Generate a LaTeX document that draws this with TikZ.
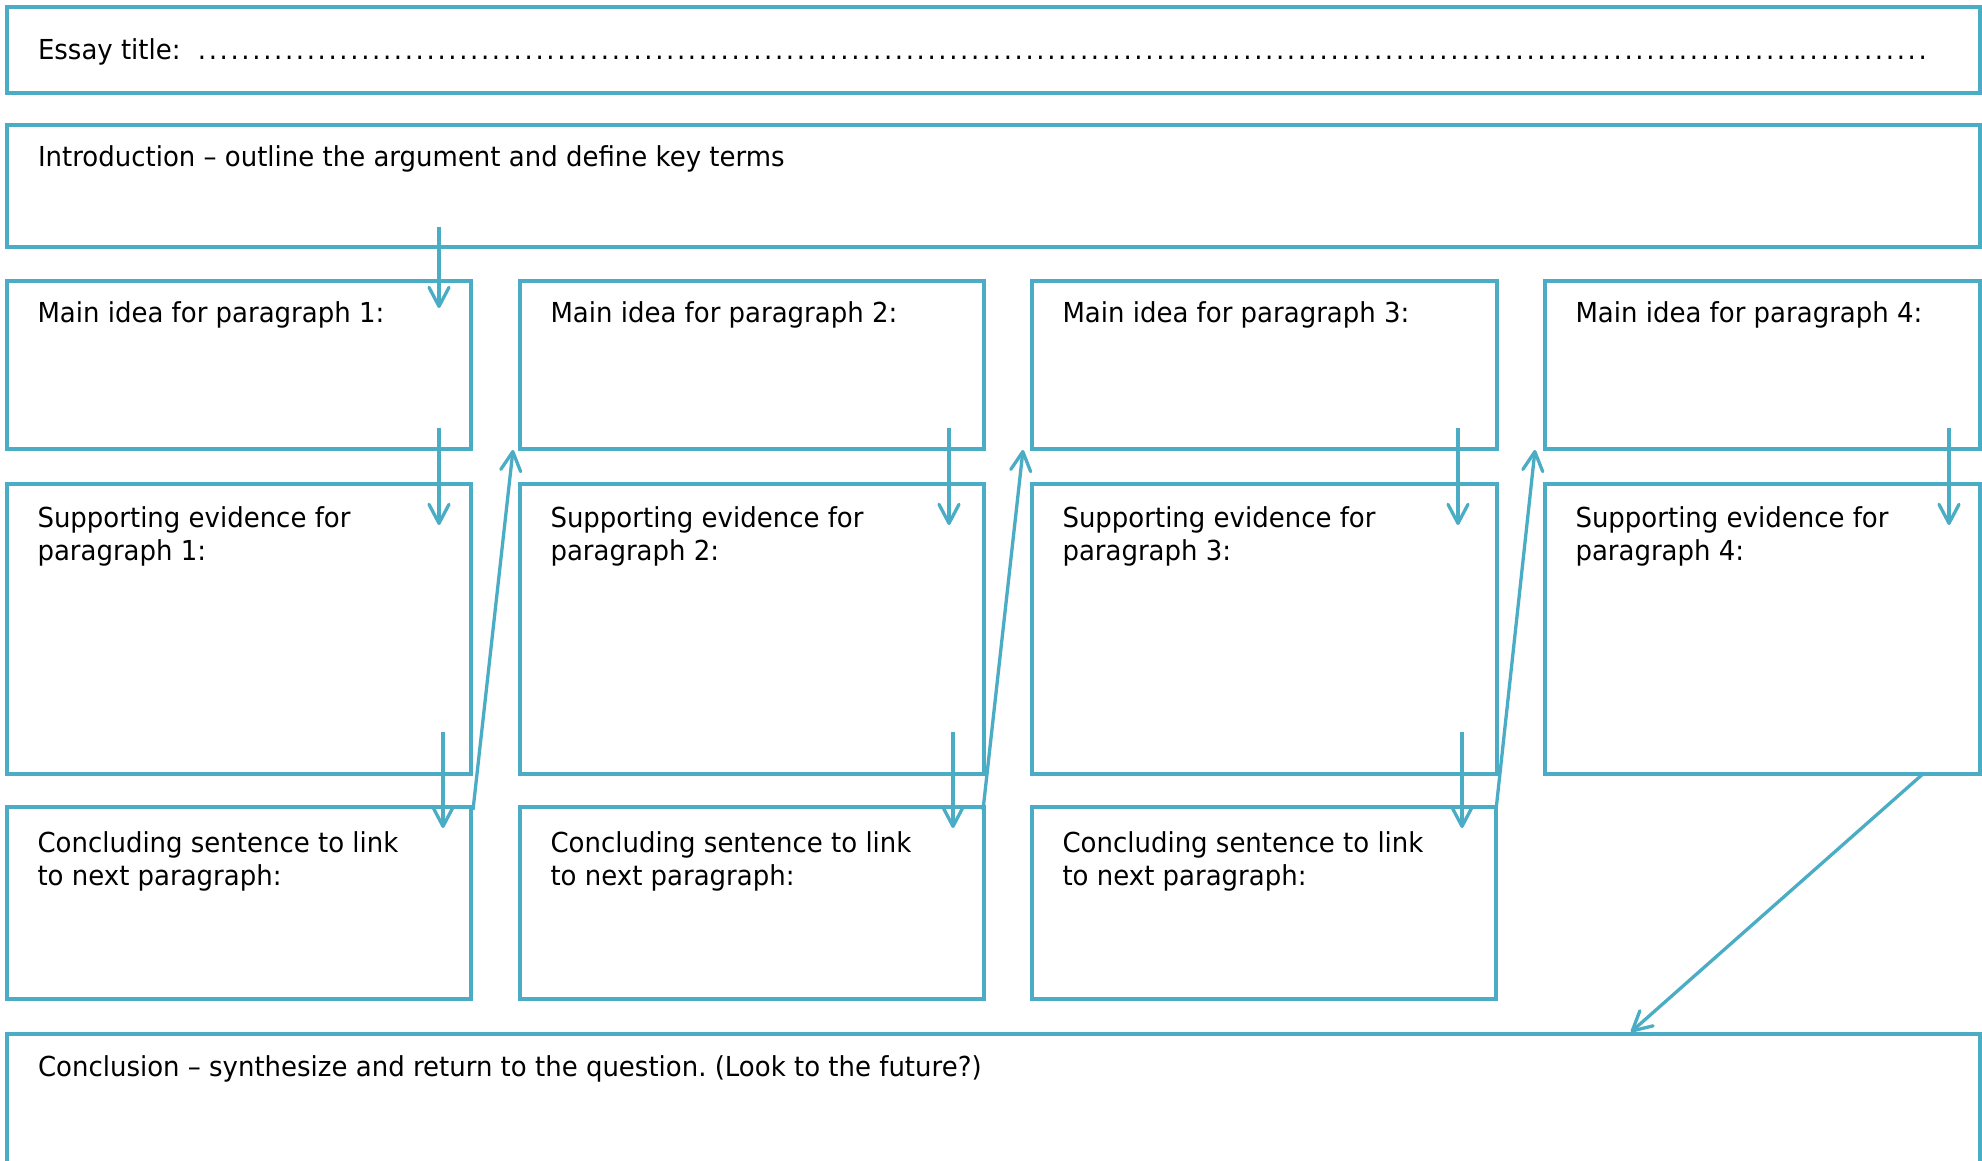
\documentclass[tikz,border=0pt]{standalone}
\usepackage{fontspec}
\setmainfont{DejaVu Sans}[FakeStretch=0.945]
\usetikzlibrary{arrows.meta,calc}
\definecolor{accent}{HTML}{4BACC6}
\newcommand\lblstrut{\rule{0pt}{24pt}}
\frenchspacing
\begin{document}
\begin{tikzpicture}[x=1pt,y=-1pt,
  box/.style={draw=accent,line width=3.3pt,rectangle,inner sep=0pt,outer sep=0pt,anchor=north west},
  lbl/.style={anchor=north west,inner sep=0pt,outer sep=0pt,align=left,font=\fontsize{27.5}{33}\selectfont},
  flow/.style={draw=accent,line width=3.3pt,-{Straight Barb[length=19pt,width=20pt,round]}}]
\useasboundingbox (0,0) rectangle (1982,1161);
\clip (0,0) rectangle (1982,1161);
% title and introduction
\node[box,minimum width=1973pt,minimum height=86pt] (title) at (7,7) {};
\node[lbl] (titlet) at ($(title.north west)+(31,29)$) {\lblstrut\makebox[158.6pt][l]{Essay title:}\hbox to 1731pt{\xleaders\hbox to 10.87pt{\hss.\hss}\hfill}};
\node[box,minimum width=1973pt,minimum height=122pt] (intro) at (7,125) {};
\node[lbl] (introt) at ($(intro.north west)+(31,18)$) {\lblstrut Introduction – outline the argument and define key terms};
% columns
\foreach \n/\x/\w in {1/7/464,2/520/464,3/1032/465,4/1545/435}{
  \node[box,minimum width=\w pt,minimum height=168pt] (m\n) at (\x,281) {};
  \node[lbl] (m\n t) at ($(m\n.north west)+(30.5,18)$) {\lblstrut Main idea for paragraph \n:};
  \node[box,minimum width=\w pt,minimum height=290pt] (s\n) at (\x,484) {};
  \node[lbl] (s\n t) at ($(s\n.north west)+(30.5,19)$) {\lblstrut Supporting evidence for\\paragraph \n:};
}
\foreach \n/\x in {1/7,2/520,3/1032}{
  \node[box,minimum width=464pt,minimum height=192pt] (c\n) at (\x,807) {};
  \node[lbl] (c\n t) at ($(c\n.north west)+(30.5,21)$) {\lblstrut Concluding sentence to link\\to next paragraph:};
}
% conclusion
\node[box,minimum width=1973pt,minimum height=170pt] (concl) at (7,1034) {};
\node[lbl] (conclt) at ($(concl.north west)+(31,18)$) {\lblstrut Conclusion – synthesize and return to the question. (Look to the future?)};
% connector end points
\coordinate (i1a) at (439,227);  \coordinate (i1b) at (439,308);
\coordinate (m1a) at (439,428);  \coordinate (m1b) at (439,525);
\coordinate (s1a) at (443,732);  \coordinate (s1b) at (443,828);
\coordinate (c1a) at (473,810);  \coordinate (c1b) at (513,450);
\coordinate (m2a) at (949,428);  \coordinate (m2b) at (949,525);
\coordinate (s2a) at (953,732);  \coordinate (s2b) at (953,828);
\coordinate (c2a) at (983,810);  \coordinate (c2b) at (1023,450);
\coordinate (m3a) at (1458,428); \coordinate (m3b) at (1458,525);
\coordinate (s3a) at (1462,732); \coordinate (s3b) at (1462,828);
\coordinate (c3a) at (1496,810); \coordinate (c3b) at (1535,450);
\coordinate (m4a) at (1949,428); \coordinate (m4b) at (1949,525);
\coordinate (s4a) at (1924,773); \coordinate (s4b) at (1631,1032);
\foreach \p in {i1,m1,s1,c1,m2,s2,c2,m3,s3,c3,m4,s4}{
  \draw[flow] (\p a) -- (\p b);
}
\end{tikzpicture}
\end{document}
